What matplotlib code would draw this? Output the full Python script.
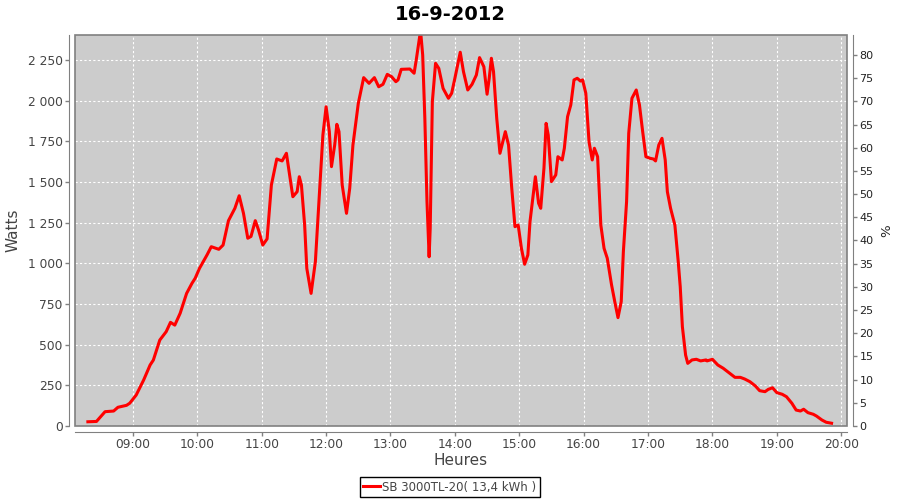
import matplotlib
matplotlib.use("Agg")
import matplotlib.pyplot as plt
from matplotlib.ticker import FuncFormatter, MultipleLocator
from matplotlib.patches import Rectangle

# power readings of the day (time, watts)
times = ["08:18", "08:26", "08:34", "08:42", "08:46", "08:54", "08:57", "09:03", "09:10", "09:16",
         "09:19", "09:25", "09:31", "09:35", "09:39", "09:44", "09:50", "09:55", "09:58", "10:02",
         "10:09", "10:13", "10:20", "10:24", "10:29", "10:35", "10:39", "10:43", "10:47", "10:50",
         "10:54", "10:57", "11:01", "11:05", "11:09", "11:14", "11:19", "11:23", "11:29", "11:33",
         "11:35", "11:37", "11:40", "11:42", "11:46", "11:50", "11:54", "11:57", "12:00", "12:03",
         "12:05", "12:08", "12:10", "12:12", "12:15", "12:19", "12:22", "12:25", "12:30", "12:35",
         "12:40", "12:45", "12:49", "12:53", "12:57", "13:01", "13:05", "13:07", "13:10", "13:18",
         "13:22", "13:24", "13:28", "13:30", "13:32", "13:34", "13:36", "13:37", "13:39", "13:42",
         "13:45", "13:49", "13:54", "13:57", "14:00", "14:05", "14:08", "14:12", "14:16", "14:20",
         "14:23", "14:27", "14:30", "14:32", "14:34", "14:36", "14:39", "14:42", "14:47", "14:50",
         "14:53", "14:56", "14:59", "15:02", "15:05", "15:08", "15:10", "15:15", "15:18", "15:20",
         "15:23", "15:25", "15:27", "15:30", "15:34", "15:36", "15:40", "15:42", "15:45", "15:48",
         "15:51", "15:54", "15:57", "15:59", "16:02", "16:05", "16:08", "16:10", "16:13", "16:16",
         "16:19", "16:22", "16:26", "16:29", "16:32", "16:35", "16:37", "16:40", "16:42", "16:45",
         "16:49", "16:52", "16:55", "16:58", "17:02", "17:05", "17:07", "17:10", "17:13", "17:16",
         "17:18", "17:21", "17:25", "17:28", "17:30", "17:32", "17:35", "17:37", "17:41", "17:45",
         "17:49", "17:54", "17:55", "18:00", "18:05", "18:10", "18:16", "18:21", "18:26", "18:30",
         "18:35", "18:40", "18:44", "18:49", "18:52", "18:56", "19:00", "19:05", "19:09", "19:14",
         "19:18", "19:22", "19:25", "19:29", "19:34", "19:37", "19:42", "19:46", "19:51"]
watts = [26, 28, 88, 92, 115, 127, 140, 190, 283, 375,
         405, 528, 580, 637, 620, 693, 815, 877, 908, 969,
         1051, 1102, 1086, 1112, 1262, 1338, 1415, 1307, 1154, 1165,
         1262, 1205, 1112, 1150, 1481, 1641, 1629, 1676, 1409, 1440,
         1532, 1481, 1235, 969, 815, 1010, 1461, 1788, 1962, 1809,
         1594, 1727, 1854, 1809, 1481, 1307, 1461, 1727, 1983, 2141,
         2106, 2141, 2085, 2100, 2161, 2147, 2116, 2127, 2192, 2194,
         2168, 2250, 2430, 2280, 1891, 1379, 1040, 1215, 1993, 2229,
         2198, 2075, 2014, 2045, 2137, 2297, 2178, 2065, 2100, 2157,
         2264, 2208, 2039, 2137, 2260, 2178, 1891, 1676, 1809, 1727,
         1461, 1225, 1235, 1092, 994, 1051, 1256, 1532, 1369, 1338,
         1584, 1860, 1788, 1502, 1543, 1655, 1635, 1707, 1901, 1973,
         2127, 2137, 2120, 2127, 2045, 1747, 1635, 1707, 1655, 1235,
         1092, 1031, 867, 764, 666, 764, 1071, 1379, 1799, 2014,
         2065, 1973, 1809, 1655, 1645, 1641, 1629, 1727, 1768, 1635,
         1440, 1338, 1235, 1020, 856, 610, 436, 385, 406, 410,
         400, 406, 400, 410, 375, 355, 324, 299, 299, 289,
         272, 246, 217, 211, 225, 235, 205, 195, 180, 140,
         98, 92, 103, 82, 72, 61, 37, 23, 17]
hour_ticks = list(range(9, 21))
serie_name = "SB 3000TL-20( 13,4 kWh )"

hours = [int(t[:2]) + int(t[3:]) / 60 for t in times]

plt.rcParams['font.family'] = ['DejaVu Sans']
fig = plt.figure(figsize=(9, 5), dpi=100)
ax = fig.add_axes([75/900, 74/500, 772/900, 391/500])
ax.set_facecolor('#cccccc')

ax.plot(hours, watts, color='#ff0000', lw=2.2, label=serie_name, solid_joinstyle='round')

ax.set_xlim(8.10, 20.09)
ax.set_ylim(0, 2403)
ax.set_xticks(hour_ticks)
ax.set_xticklabels(["%02d:00" % h for h in hour_ticks])
ax.yaxis.set_major_locator(MultipleLocator(250))
ax.yaxis.set_major_formatter(FuncFormatter(lambda v, p: format(int(v), ',').replace(',', ' ')))
ax.grid(True, color='white', ls=(0, (2, 2)), lw=0.8)
ax.set_axisbelow(True)

ax2 = ax.twinx()
ax2.set_ylim(0, 84.3)
ax2.yaxis.set_major_locator(MultipleLocator(5))

for a in (ax, ax2):
    for s in a.spines.values():
        s.set_color('#808080')
    a.spines['top'].set_visible(False)
    a.spines['left'].set_position(('outward', 4))
    a.spines['bottom'].set_position(('outward', 4))
    a.spines['right'].set_position(('outward', 4))
    a.tick_params(colors='#808080', length=3, width=1, pad=2)
ax2.spines['left'].set_visible(False)
ax2.spines['bottom'].set_visible(False)
ax.spines['right'].set_visible(False)
ax.tick_params(labelcolor='#444444', labelsize=8.8)
ax2.tick_params(labelcolor='#222222', labelsize=8)

# plot outline
ax.add_patch(Rectangle((0, 0), 1, 1, transform=ax.transAxes, fill=False,
                       edgecolor='#808080', lw=1.2, clip_on=False, zorder=5))

ax.set_ylabel("Watts", fontsize=11, color='#444444')
ax.yaxis.set_label_coords(-0.071, 0.5)
ax.set_xlabel("Heures", fontsize=11, color='#444444')
ax.xaxis.set_label_coords(0.5, -0.07)
ax2.set_ylabel("%", fontsize=9.5, color='#222222')
ax2.yaxis.set_label_coords(1.043, 0.5)
fig.suptitle("16-9-2012", fontsize=14, fontweight='bold', y=0.99)

leg = fig.legend(loc='lower center', bbox_to_anchor=(0.5, -0.006), fontsize=8.5,
                 fancybox=False, edgecolor='black', framealpha=1, handlelength=1.4,
                 handletextpad=0.2, borderpad=0.3, labelcolor='#444444')
leg.get_frame().set_linewidth(1)

fig.savefig("out.png", dpi=100)
